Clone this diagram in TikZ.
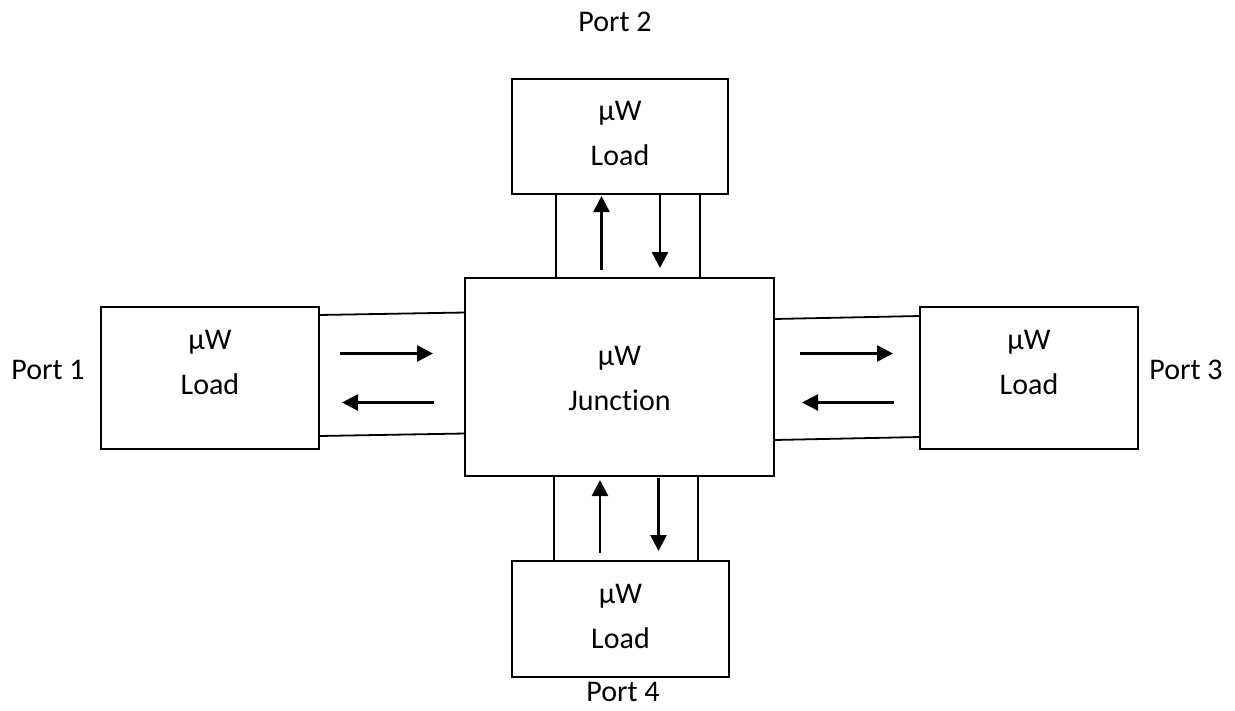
\documentclass[tikz,border=0pt]{standalone}
\usepackage{fontspec}
\setmainfont[Ligatures=NoCommon]{Carlito}
\usetikzlibrary{arrows.meta,calc}
\begin{document}
\begin{tikzpicture}[x=1pt,y=-1pt,
  box/.style={draw,line width=1.6pt,minimum width=#1,inner sep=0pt,outer sep=0pt},
  txt/.style={inner sep=0pt,align=center,font=\fontsize{30}{45}\selectfont},
  guide/.style={line width=1.8pt},
  flow/.style={line width=2.6pt,-{Triangle[length=16pt,width=16pt]}}]
\useasboundingbox[fill=white] (0,0) rectangle (1235,710);

% boxes
\node[box=216pt,minimum height=115pt] (T) at (620,136.5) {};
\node[box=309pt,minimum height=198pt] (J) at (619.5,377) {};
\node[box=218pt,minimum height=142pt] (L) at (210,378) {};
\node[box=218pt,minimum height=142pt] (R) at (1029,378) {};
\node[box=217pt,minimum height=116pt] (B) at (620.5,619) {};

% box texts
\node[txt] (tT) at (620,133) {µW\\Load};
\node[txt] (tJ) at (619.5,378) {µW\\Junction};
\node[txt] (tL) at (210,362) {µW\\Load};
\node[txt] (tR) at (1029,362) {µW\\Load};
\node[txt] (tB) at (620.5,616) {µW\\Load};

% port labels
\node[txt] (p1) at (48,370) {Port 1};
\node[txt] (p2) at (615,22) {Port 2};
\node[txt] (p3) at (1186,370) {Port 3};
\node[txt] (p4) at (623,692) {Port 4};

% waveguide walls
\draw[guide] ($(L.north east)+(0,8)$) -- ($(J.north west)+(0,34.5)$);
\draw[guide] ($(L.south east)+(0,-13)$) -- ($(J.south west)+(0,-42.5)$);
\draw[guide] ($(J.north east)+(0,41)$) -- ($(R.north west)+(0,9)$);
\draw[guide] ($(J.south east)+(0,-36)$) -- ($(R.south west)+(0,-12)$);
\draw[guide] ($(T.south west)+(44,0)$) -- ($(J.north west)+(91,0)$);
\draw[guide] ($(T.south east)+(-28,0)$) -- ($(J.north west)+(235,0)$);
\draw[guide] ($(J.south west)+(89,0)$) -- ($(B.north west)+(42,0)$);
\draw[guide] ($(J.south west)+(233,0)$) -- ($(B.north west)+(186,0)$);

% wave directions
\coordinate (a1s) at (340,353.5); \coordinate (a1e) at (433,353.5);
\coordinate (a2s) at (434,402.5); \coordinate (a2e) at (342,402.5);
\coordinate (a3s) at (800,353.5); \coordinate (a3e) at (893,353.5);
\coordinate (a4s) at (894,402.5); \coordinate (a4e) at (802,402.5);
\coordinate (a5s) at (601.5,270); \coordinate (a5e) at (601.5,196);
\coordinate (a6s) at (660,195); \coordinate (a6e) at (660,268);
\coordinate (a7s) at (600,553); \coordinate (a7e) at (600,480);
\coordinate (a8s) at (658.5,478); \coordinate (a8e) at (658.5,551);
\foreach \i in {1,...,8} \draw[flow] (a\i s) -- (a\i e);
\end{tikzpicture}
\end{document}
